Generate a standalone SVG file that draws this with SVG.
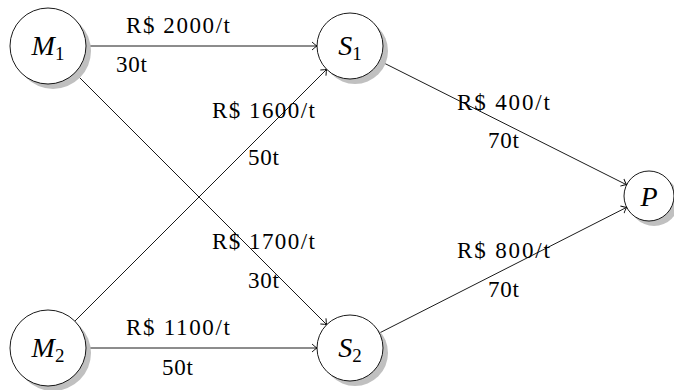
<svg xmlns="http://www.w3.org/2000/svg" width="674" height="390" viewBox="0 0 674 390">
<style>
.shadow{fill:#c0c0c0;stroke:none}
.node{fill:#fff;stroke:#000;stroke-width:0.9}
.nl{font-family:"Liberation Serif","DejaVu Serif",serif;font-style:italic;font-size:28px;fill:#000}
.sub{font-style:normal;font-size:19px}
.edge{stroke:#000;stroke-width:0.9;fill:none;marker-end:url(#arr)}
.lbl{font-family:"Liberation Serif","DejaVu Serif",serif;font-size:23px;fill:#000}
</style>
<defs>
<marker id="arr" markerUnits="userSpaceOnUse" markerWidth="12" markerHeight="12" viewBox="-7 -6 8 12" refX="0" refY="0" orient="auto" overflow="visible">
<path d="M -5 -4 Q -1.5 -0.8 0 0 Q -1.5 0.8 -5 4" fill="none" stroke="#000" stroke-width="0.9"/>
</marker>
</defs>
<g id="connectors">
<line class="edge" x1="86" y1="46" x2="317" y2="46"/>
<line class="edge" x1="74.9" y1="72.9" x2="326.7" y2="324.7"/>
<line class="edge" x1="74.9" y1="321.1" x2="326.7" y2="69.3"/>
<line class="edge" x1="86" y1="348" x2="317" y2="348"/>
<line class="edge" x1="379.5" y1="60.8" x2="626.6" y2="184.8"/>
<line class="edge" x1="379.4" y1="333" x2="626.7" y2="207.3"/>
</g>
<g id="labels">
<text class="lbl" x="126" y="33" textLength="104" lengthAdjust="spacing">R$ 2000/t</text>
<text class="lbl" x="116" y="72" textLength="31" lengthAdjust="spacing">30t</text>
<text class="lbl" x="212" y="118" textLength="103" lengthAdjust="spacing">R$ 1600/t</text>
<text class="lbl" x="248" y="165" textLength="31" lengthAdjust="spacing">50t</text>
<text class="lbl" x="212" y="249" textLength="103" lengthAdjust="spacing">R$ 1700/t</text>
<text class="lbl" x="248" y="288" textLength="31" lengthAdjust="spacing">30t</text>
<text class="lbl" x="126" y="335" textLength="104" lengthAdjust="spacing">R$ 1100/t</text>
<text class="lbl" x="162" y="375" textLength="31" lengthAdjust="spacing">50t</text>
<text class="lbl" x="457" y="110" textLength="93" lengthAdjust="spacing">R$ 400/t</text>
<text class="lbl" x="488" y="148" textLength="31" lengthAdjust="spacing">70t</text>
<text class="lbl" x="457" y="258" textLength="93" lengthAdjust="spacing">R$ 800/t</text>
<text class="lbl" x="488" y="297" textLength="31" lengthAdjust="spacing">70t</text>
</g>
<g id="M1">
<circle class="shadow" cx="53" cy="51" r="38"/>
<circle class="node" cx="48" cy="46" r="38"/>
<text class="nl" x="48" y="55" text-anchor="middle">M<tspan class="sub" dy="5">1</tspan></text>
</g>
<g id="M2">
<circle class="shadow" cx="53" cy="353" r="38"/>
<circle class="node" cx="48" cy="348" r="38"/>
<text class="nl" x="48" y="357" text-anchor="middle">M<tspan class="sub" dy="5">2</tspan></text>
</g>
<g id="S1">
<circle class="shadow" cx="355" cy="51" r="33"/>
<circle class="node" cx="350" cy="46" r="33"/>
<text class="nl" x="350" y="55" text-anchor="middle">S<tspan class="sub" dy="5">1</tspan></text>
</g>
<g id="S2">
<circle class="shadow" cx="355" cy="353" r="33"/>
<circle class="node" cx="350" cy="348" r="33"/>
<text class="nl" x="350" y="357" text-anchor="middle">S<tspan class="sub" dy="5">2</tspan></text>
</g>
<g id="P">
<circle class="shadow" cx="654" cy="201" r="25"/>
<circle class="node" cx="649" cy="196" r="25"/>
<text class="nl" x="649" y="206" text-anchor="middle">P</text>
</g>
</svg>
